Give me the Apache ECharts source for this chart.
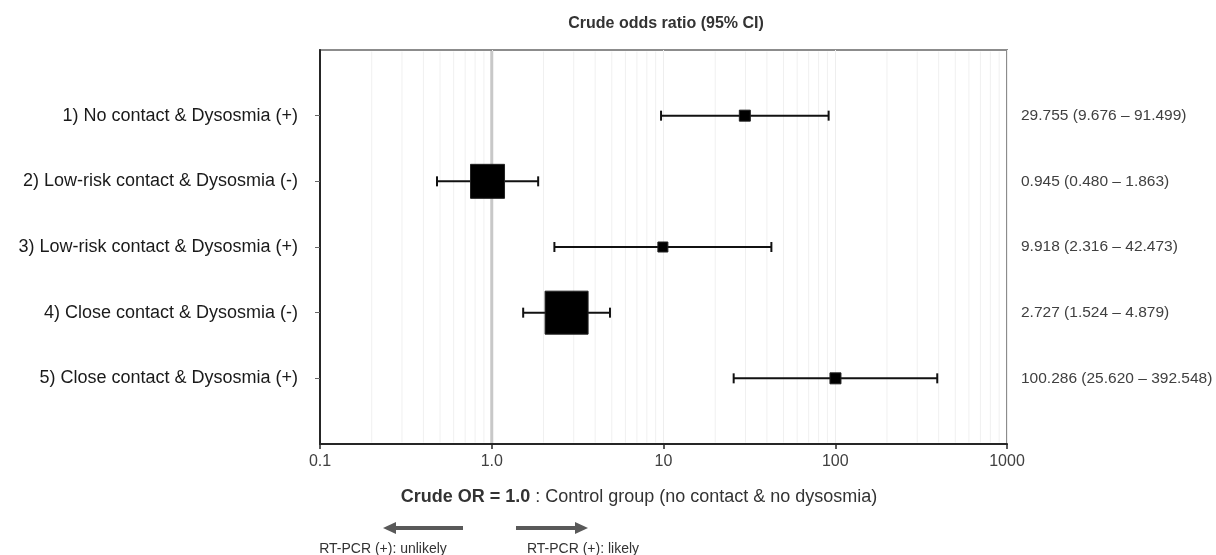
<!DOCTYPE html>
<html><head><meta charset="utf-8">
<script src="https://cdn.jsdelivr.net/npm/echarts@6/dist/echarts.min.js"></script>
<style>html,body{margin:0;padding:0;background:#fff}#c{width:1216px;height:555px}</style>
</head><body><div id="c"></div>
<script>
// ---- data ----
const categories = [
  '1) No contact & Dysosmia (+)',
  '2) Low-risk contact & Dysosmia (-)',
  '3) Low-risk contact & Dysosmia (+)',
  '4) Close contact & Dysosmia (-)',
  '5) Close contact & Dysosmia (+)'
];
const oddsRatio = [29.755, 0.945, 9.918, 2.727, 100.286];
const ciLower   = [9.676, 0.480, 2.316, 1.524, 25.620];
const ciUpper   = [91.499, 1.863, 42.473, 4.879, 392.548];
const xTicks = [0.1, 1, 10, 100, 1000];
const xTickLabels = ['0.1', '1.0', '10', '100', '1000'];
const minorGrid = [0.2,0.3,0.4,0.5,0.6,0.7,0.8,0.9, 2,3,4,5,6,7,8,9, 20,30,40,50,60,70,80,90, 200,300,400,500,600,700,800,900];
const referenceOR = 1;
// ---- style ----
const boxSize = [11, 34, 10, 43, 11];
const FONT = '"Liberation Sans", Arial, sans-serif';

const chart = echarts.init(document.getElementById('c'), null, {renderer: 'canvas'});
const fmt = v => v.toFixed(3);
const rowVals = [1,2,3,4,5];

const option = {
  animation: false,
  backgroundColor: '#fff',
  textStyle: {fontFamily: FONT},
  grid: {left: 320, right: 209, top: 50, bottom: 111, containLabel: false, outerBoundsMode: 'none',
    show: true, borderColor: '#8c8c8c', borderWidth: 2, backgroundColor: 'transparent'},
  xAxis: [{
    type: 'log', logBase: 10, min: 0.1, max: 1000,
    axisLine: {show: true, onZero: false, lineStyle: {color: '#262626', width: 2}},
    axisTick: {show: true, length: 5, lineStyle: {color: '#262626', width: 1.5}},
    axisLabel: {
      fontSize: 16, color: '#404040', margin: 10, fontFamily: FONT,
      formatter: v => {
        const i = xTicks.findIndex(t => Math.abs(Math.log10(t) - Math.log10(v)) < 1e-6);
        return i >= 0 ? xTickLabels[i] : '';
      }
    },
    splitLine: {show: true, lineStyle: {color: '#eeeeee', width: 1}},
    minorTick: {show: false}
  }],
  yAxis: [{
    type: 'value', min: 0, max: 6, inverse: true,
    axisLine: {show: true, onZero: false, lineStyle: {color: '#262626', width: 2}},
    axisTick: {show: true, length: 5, customValues: rowVals, lineStyle: {color: '#666', width: 1}},
    axisLabel: {
      customValues: rowVals, fontSize: 18, color: '#1a1a1a', margin: 22, fontFamily: FONT,
      formatter: v => categories[Math.round(v) - 1] || ''
    },
    splitLine: {show: false}
  }, {
    type: 'value', min: 0, max: 6, inverse: true, position: 'right',
    axisLine: {show: false},
    axisTick: {show: false},
    axisLabel: {
      customValues: rowVals, fontSize: 15.5, color: '#404040', margin: 14, fontFamily: FONT,
      formatter: v => {
        const i = Math.round(v) - 1;
        if (i < 0 || i >= categories.length) return '';
        return fmt(oddsRatio[i]) + ' (' + fmt(ciLower[i]) + ' \u2013 ' + fmt(ciUpper[i]) + ')';
      }
    },
    splitLine: {show: false}
  }],
  series: [
    {
      type: 'custom', name: 'minor grid', xAxisIndex: 0, yAxisIndex: 0, z: 1, silent: true,
      data: minorGrid.map(v => [v]),
      encode: {x: 0},
      renderItem: (params, api) => {
        const v = api.value(0);
        const a = api.coord([v, 0]), b = api.coord([v, 6]);
        return {type: 'line', shape: {x1: a[0], y1: a[1] + 1.5, x2: b[0], y2: b[1] - 1.5},
          style: {stroke: '#f0f0f0', lineWidth: 1}};
      }
    },
    {
      type: 'custom', name: 'reference', xAxisIndex: 0, yAxisIndex: 0, z: 2, silent: true,
      data: [[referenceOR]],
      encode: {x: 0},
      renderItem: (params, api) => {
        const v = api.value(0);
        const a = api.coord([v, 0]), b = api.coord([v, 6]);
        return {type: 'line', shape: {x1: a[0], y1: a[1] + 1, x2: b[0], y2: b[1] - 1},
          style: {stroke: '#c8c8c8', lineWidth: 3}};
      }
    },
    {
      type: 'custom', name: 'OR', xAxisIndex: 0, yAxisIndex: 0, z: 3,
      data: categories.map((c, i) => [oddsRatio[i], i + 1, ciLower[i], ciUpper[i]]),
      encode: {x: 0, y: 1},
      renderItem: (params, api) => {
        const row = api.value(1);
        const pO = api.coord([api.value(0), row]);
        const pL = api.coord([api.value(2), row]);
        const pH = api.coord([api.value(3), row]);
        const s = boxSize[params.dataIndex];
        const cap = 5;
        const ls = {stroke: '#111', lineWidth: 2};
        return {type: 'group', children: [
          {type: 'line', shape: {x1: pL[0], y1: pL[1], x2: pH[0], y2: pH[1]}, style: ls},
          {type: 'line', shape: {x1: pL[0], y1: pL[1] - cap, x2: pL[0], y2: pL[1] + cap}, style: ls},
          {type: 'line', shape: {x1: pH[0], y1: pH[1] - cap, x2: pH[0], y2: pH[1] + cap}, style: ls},
          {type: 'rect', shape: {x: pO[0] - s / 2, y: pO[1] - s / 2, width: s, height: s},
            style: {fill: '#000', stroke: '#222', lineWidth: 1}}
        ]};
      }
    }
  ],
  graphic: [
    {type: 'text', x: 666, y: 24, style: {text: 'Crude odds ratio (95% CI)', font: 'bold 16px ' + FONT,
      fill: '#333', textAlign: 'center', textVerticalAlign: 'middle'}},
    {type: 'text', x: 639, y: 497, style: {
      text: '{b|Crude OR = 1.0} : Control group (no contact & no dysosmia)',
      textAlign: 'center', textVerticalAlign: 'middle', fill: '#333',
      font: '18px ' + FONT,
      rich: {b: {fontWeight: 'bold', fontSize: 18, fontFamily: FONT, fill: '#333'}}
    }},
    // left arrow
    {type: 'line', shape: {x1: 463, y1: 528, x2: 393, y2: 528}, style: {stroke: '#595959', lineWidth: 4}},
    {type: 'polygon', shape: {points: [[383, 528], [396, 522], [396, 534]]}, style: {fill: '#595959'}},
    // right arrow
    {type: 'line', shape: {x1: 516, y1: 528, x2: 578, y2: 528}, style: {stroke: '#595959', lineWidth: 4}},
    {type: 'polygon', shape: {points: [[588, 528], [575, 522], [575, 534]]}, style: {fill: '#595959'}},
    {type: 'text', x: 383, y: 549, style: {text: 'RT-PCR (+): unlikely', font: '14px ' + FONT,
      fill: '#333', textAlign: 'center', textVerticalAlign: 'middle'}},
    {type: 'text', x: 583, y: 549, style: {text: 'RT-PCR (+): likely', font: '14px ' + FONT,
      fill: '#333', textAlign: 'center', textVerticalAlign: 'middle'}}
  ]
};
chart.setOption(option);
</script>
</body></html>
